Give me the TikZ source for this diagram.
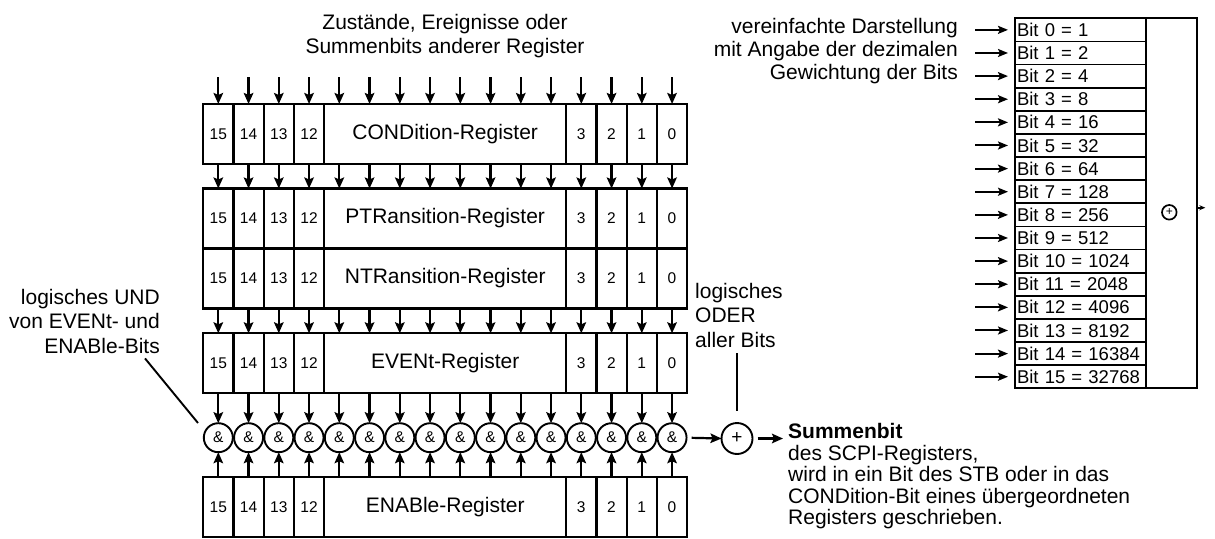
\documentclass[tikz,border=0pt]{standalone}
\usepackage{fontspec}
\setmainfont{Liberation Sans}
\usetikzlibrary{arrows.meta,positioning}

\tikzset{
  regcol/.style={minimum width=30.25pt,minimum height=60pt,inner sep=0pt,outer sep=0pt},
  bitcell/.style={regcol,draw,line width=2.2pt,font=\fontsize{15.5}{17}\selectfont},
  regname/.style={draw,line width=2.2pt,minimum width=242pt,minimum height=60pt,inner sep=0pt,outer sep=0pt,font=\fontsize{21}{24}\selectfont},
  andgate/.style={circle,draw,line width=1.9pt,minimum size=29pt,inner sep=0pt,outer sep=0pt,font=\fontsize{15.5}{17}\selectfont},
  sig/.style={line width=2.2pt,-{Stealth[length=11pt,width=9.5pt,inset=2pt]}},
  wsig/.style={line width=2pt,-{Stealth[length=10pt,width=8pt,inset=2pt]}},
  lbl/.style={inner sep=0pt,font=\fontsize{21}{24}\selectfont},
  weightrow/.style={draw,line width=1.8pt,minimum height=23.125pt,text width=127pt,inner xsep=2pt,inner ysep=0pt,outer sep=0pt,align=left,font=\fontsize{18.5}{20}\selectfont},
}

\begin{document}
\begin{tikzpicture}[x=1pt,y=-1pt]
\path[use as bounding box] (0,0) rectangle (1215,538);

\node[lbl,align=center,font=\fontsize{21}{23.3}\selectfont] (srclabel) at (445,36) {Zustände, Ereignisse oder\\Summenbits anderer Register};

\foreach \r/\y/\txt in {cond/134/CONDition-Register,ptr/218.5/PTRansition-Register,ntr/278.5/NTRansition-Register,event/363.3/EVENt-Register,enable/507/ENABle-Register}{
  \foreach \c/\b in {0/15,1/14,2/13,3/12,12/3,13/2,14/1,15/0}
    \node[bitcell] (\r-\c) at ({218.3+30.25*\c},\y) {\b};
  \foreach \c in {4,...,11}
    \node[regcol] (\r-\c) at ({218.3+30.25*\c},\y) {};
  \node[regname] (\r-name) at (445.2,\y) {\txt};
}

\foreach \c in {0,...,15}{
  \coordinate (in-\c) at ({218.3+30.25*\c},77);
  \node[andgate] (and-\c) at ({218.3+30.25*\c},437.7) {\&};
  \draw[sig] (in-\c) -- (cond-\c.north);
  \draw[sig] (cond-\c.south) -- (ptr-\c.north);
  \draw[sig] (ntr-\c.south) -- (event-\c.north);
  \draw[sig] (event-\c.south) -- (and-\c.north);
  \draw[sig] (enable-\c.north) -- (and-\c.south);
}

\node[andgate,minimum size=31pt,font=\fontsize{19}{20}\selectfont] (or) at (737,438.5) {+};
\draw[sig,shorten <=5pt] (and-15.east) -- (or.west);
\node[lbl,anchor=base west,font=\bfseries\fontsize{21}{24}\selectfont] (sumbit) at (788,438) {Summenbit};
\draw[sig,shorten <=5pt,shorten >=5pt] (or.east) -- (or.east -| sumbit.west);
\node[lbl,anchor=north west,align=left,font=\fontsize{21}{21.5}\selectfont] (sumtext) at ([yshift=-7pt]sumbit.base west) {des SCPI-Registers,\\wird in ein Bit des STB oder in das\\CONDition-Bit eines übergeordneten\\Registers geschrieben.};

\node[lbl,align=left,anchor=west,font=\fontsize{21}{24.5}\selectfont] (oderlabel) at (695,315) {logisches\\ODER\\aller Bits};
\draw[line width=1.9pt] (oderlabel.south -| or.north) ++(0,6) -- ([yshift=12pt]or.north);

\node[lbl,align=right,anchor=east,font=\fontsize{21}{24.5}\selectfont] (undlabel) at (160,321) {logisches UND\\von EVENt- und\\ENABle-Bits};
\coordinate (undtip) at (198,423);
\draw[line width=1.9pt] (undlabel.south east) ++(-15,5) -- (undtip);

\node[lbl,align=right,anchor=east,font=\fontsize{21}{23.3}\selectfont] (weightlabel) at (958,51) {vereinfachte Darstellung\\mit Angabe der dezimalen\\Gewichtung der Bits};

\node[draw,line width=2.2pt,minimum width=182.3pt,minimum height=370pt,inner sep=0pt,outer sep=0pt] (sumbox) at (1106.15,203.3) {};
\foreach \b/\v in {0/1,1/2,2/4,3/8,4/16,5/32,6/64,7/128,8/256,9/512,10/1024,11/2048,12/4096,13/8192,14/16384,15/32768}{
  \node[weightrow] (w\b) at (1080.5,{29.86+23.125*\b}) {Bit \b{} = \v};
  \draw[wsig,shorten >=7pt] ([xshift=-40pt]w\b.west) -- (w\b.west);
}
\node[circle,draw,line width=1.7pt,minimum size=14.6pt,inner sep=0pt,font=\fontsize{12}{13}\selectfont] (wsum) at (1169.3,212.3) {+};
\draw[line width=1.8pt,-{Stealth[length=6pt,width=5pt]}] ([yshift=-4.4pt]sumbox.east) -- ++(8,0);
\end{tikzpicture}
\end{document}
